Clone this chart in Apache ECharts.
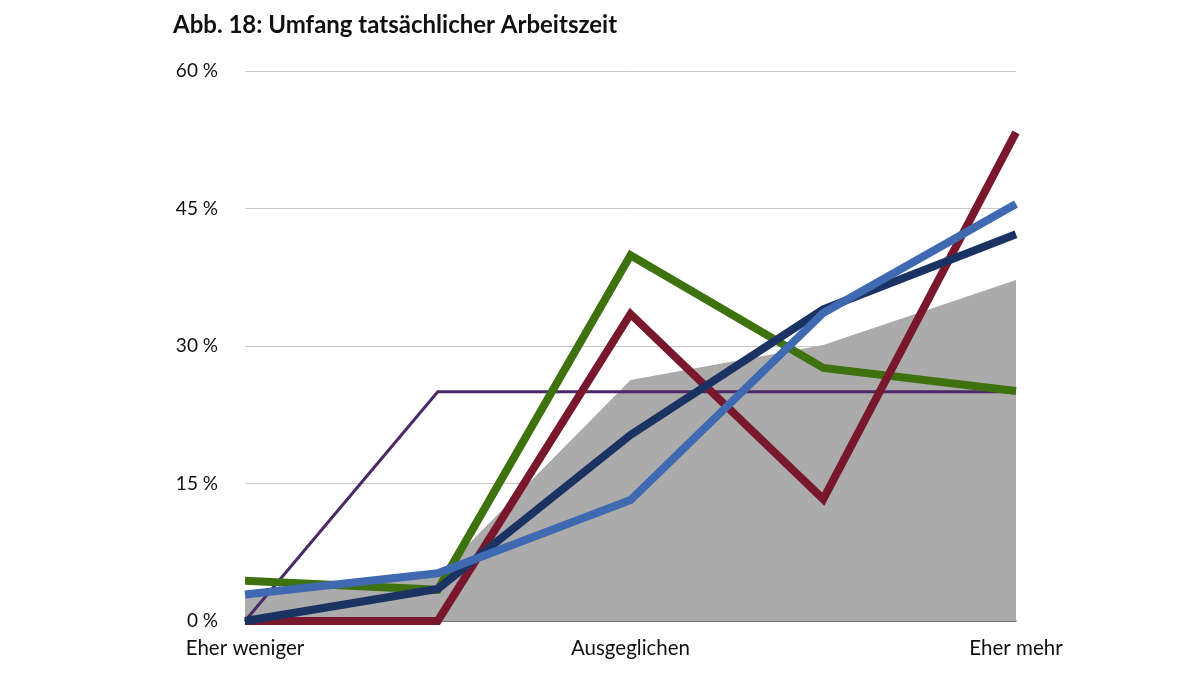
<!DOCTYPE html>
<html><head><meta charset="utf-8">
<script src="https://cdn.jsdelivr.net/npm/echarts@6/dist/echarts.min.js"></script>
<style>html,body{margin:0;padding:0;background:#fff}#c{width:1200px;height:676px}</style>
</head><body><div id="c"></div>
<script>
const categories = ['Eher weniger', '', 'Ausgeglichen', '', 'Eher mehr'];
const yTicks = [0, 15, 30, 45, 60];
const grayArea = [2.6, 5.0, 26.3, 30.1, 37.2];
const purpleLine = [0, 25, 25, 25, 25];
const greenLine = [4.4, 3.4, 39.9, 27.6, 25.1];
const maroonLine = [0, 0, 33.5, 13.3, 53.3];
const navyLine = [0, 3.5, 20.3, 34.0, 42.2];
const blueLine = [2.9, 5.2, 13.2, 33.6, 45.5];

const chart = echarts.init(document.getElementById('c'));
const FONT = 'Lato';
function line(data, color, width, z) {
  return { type: 'line', data, symbol: 'none', z, lineStyle: { color, width, cap: 'butt', join: 'miter' } };
}
chart.setOption({
  animation: false,
  title: { text: 'Abb. 18: Umfang tatsächlicher Arbeitszeit', left: 168, top: 8,
    textStyle: { fontFamily: FONT, fontSize: 24, fontWeight: 'bold', color: '#111' } },
  grid: { left: 245, right: 184, top: 71, bottom: 55, containLabel: false },
  xAxis: { type: 'category', data: categories, boundaryGap: false,
    axisLine: { show: true, lineStyle: { color: '#555', width: 1.5 } },
    axisTick: { show: false },
    axisLabel: { interval: 0, margin: 17, fontFamily: FONT, fontSize: 20.5, color: '#111' },
    splitLine: { show: false } },
  yAxis: { type: 'value', min: 0, max: 60, interval: 15,
    axisLine: { show: false }, axisTick: { show: false },
    axisLabel: { margin: 27, fontFamily: FONT, fontSize: 19, color: '#111', formatter: v => v + ' %' },
    splitLine: { lineStyle: { color: '#c8c8c8', width: 1 } } },
  series: [
    { type: 'line', data: grayArea, symbol: 'none', z: 1, lineStyle: { width: 0 },
      areaStyle: { color: '#ababab', opacity: 1 } },
    line(purpleLine, '#4c2866', 3, 2),
    line(greenLine, '#3e720f', 8, 3),
    line(maroonLine, '#79182d', 8, 4),
    line(navyLine, '#1b3363', 8, 5),
    line(blueLine, '#3f6ab2', 8, 6)
  ]
});
</script></body></html>
